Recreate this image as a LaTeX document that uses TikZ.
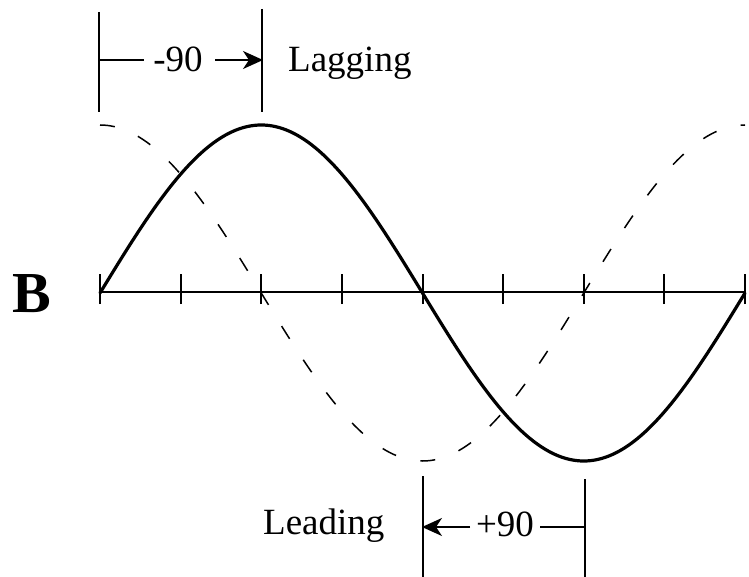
\documentclass[tikz,border=0pt]{standalone}
\usepackage{fontspec}
\setmainfont{Liberation Serif}
\usetikzlibrary{arrows.meta}
\begin{document}
\begin{tikzpicture}[x=1pt,y=-1pt,
  lbl/.style={inner sep=0pt, font=\fontsize{37}{40}\selectfont},
  guide/.style={line width=2pt},
  axisline/.style={line width=2pt},
  wave/.style={line width=3.2pt, line join=round, line cap=round},
  shifted/.style={line width=1.5pt, dash pattern=on 15pt off 25pt},
  dimarrow/.style={line width=2pt, -{Stealth[length=20pt,width=18pt,inset=6pt]}}]
\useasboundingbox (0,0) rectangle (749,577);

% label B
\node[inner sep=0pt, font=\fontsize{58}{60}\selectfont\bfseries] (B) at (32,294) {B};

% axis and ticks
\coordinate (a0) at (100,292);
\coordinate (a8) at (745,292);
\draw[axisline] (a0) -- (a8);
\foreach \k in {0,...,8}{
  \coordinate (t\k) at ({100+80.625*\k},292);
  \draw[axisline] ([yshift=-12pt]t\k) -- ([yshift=18pt]t\k);
}

% waves
\draw[shifted] plot[domain=0:360, samples=181] ({100+1.791667*\x}, {293-168*cos(\x)});
\draw[wave] plot[domain=0:360, samples=181] ({100+1.791667*\x}, {293-168*sin(\x)});

% top dimension: -90 Lagging
\coordinate (u1a) at (99,12);  \coordinate (u1b) at (99,112);
\coordinate (u2a) at (262,9);  \coordinate (u2b) at (262,112);
\draw[guide] (u1a) -- (u1b);
\draw[guide] (u2a) -- (u2b);
\node[lbl, anchor=base] (m90) at (178,72) {-90};
\node[lbl, anchor=base west] (lag) at (288,72) {Lagging};
\coordinate (ua) at (99,60);
\coordinate (ub) at (144,60);
\coordinate (uc) at (215,60);
\coordinate (ud) at (263,60);
\draw[guide] (ua) -- (ub);
\draw[dimarrow] (uc) -- (ud);

% bottom dimension: Leading +90
\coordinate (d1a) at (423,476); \coordinate (d1b) at (423,577);
\coordinate (d2a) at (585,479); \coordinate (d2b) at (585,577);
\draw[guide] (d1a) -- (d1b);
\draw[guide] (d2a) -- (d2b);
\node[lbl, anchor=base] (p90) at (505,536) {+90};
\node[lbl, anchor=base west] (lead) at (263,534) {Leading};
\coordinate (da) at (470,527);
\coordinate (db) at (422,527);
\coordinate (dc) at (540,527);
\coordinate (dd) at (585,527);
\draw[dimarrow] (da) -- (db);
\draw[guide] (dc) -- (dd);
\end{tikzpicture}
\end{document}
